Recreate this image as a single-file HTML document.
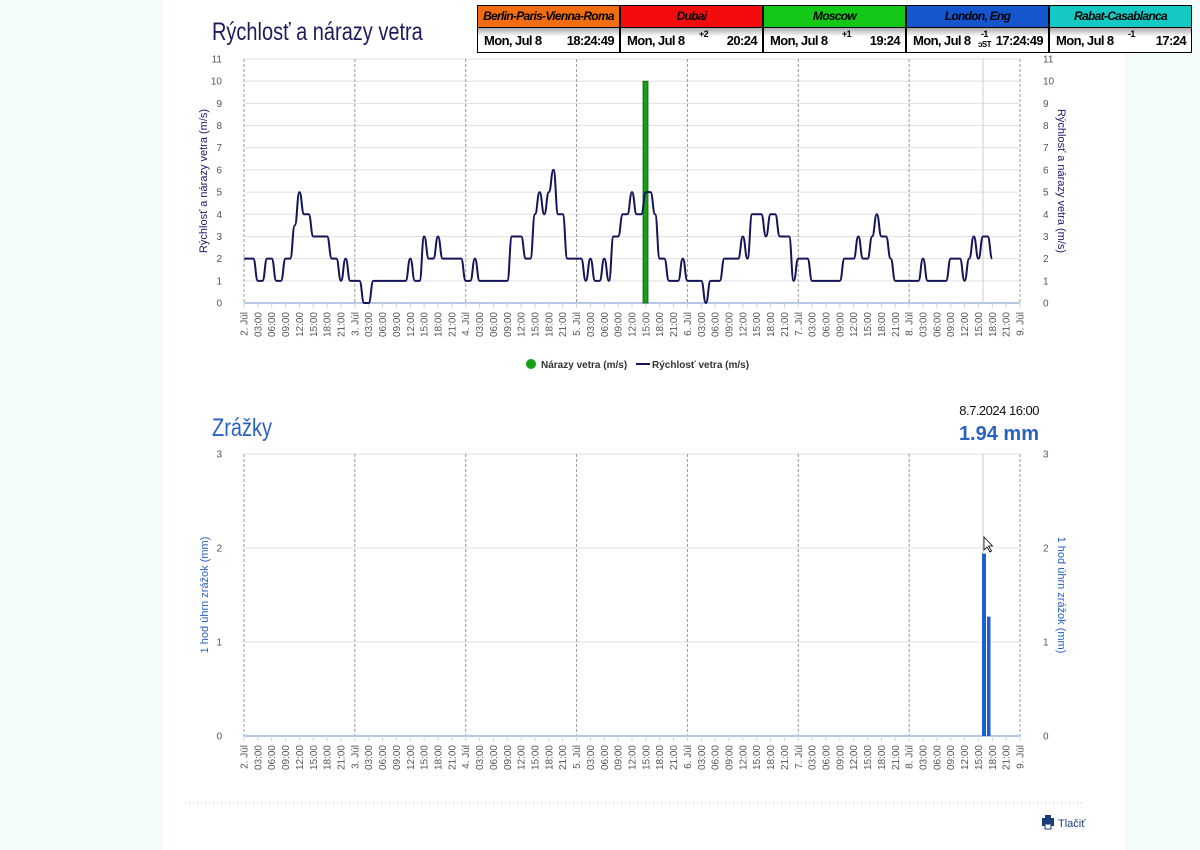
<!DOCTYPE html>
<html><head><meta charset="utf-8"><style>
body{margin:0;width:1200px;height:850px;background:#f4fbfb;font-family:"Liberation Sans",sans-serif;overflow:hidden}
#page{position:absolute;left:163px;top:0;width:962px;height:850px;background:#fff}
svg{position:absolute;left:0;top:0}
.clk{position:absolute;top:5px;width:143px;height:48px;border:1px solid #000;box-sizing:border-box;background:#fff}
.clk .n{height:21px;border-bottom:1px solid #000;font:italic bold 12px "Liberation Sans",sans-serif;text-align:center;line-height:21px;letter-spacing:-0.7px;white-space:nowrap;overflow:hidden}
.clk .t{height:24px;background:linear-gradient(#aaa,#fff 35%,#fff);font:bold 13px "Liberation Sans",sans-serif;line-height:26px;position:relative;letter-spacing:-0.6px}
.clk .t span{position:absolute}
</style></head><body>
<div id="page"></div>
<div class="clk" style="left:477px"><div class="n" style="background:#f26d0f">Berlin-Paris-Vienna-Roma</div><div class="t"><span style="left:6px">Mon, Jul 8</span><span style="right:5px">18:24:49</span></div></div>
<div class="clk" style="left:620px"><div class="n" style="background:#f40b0b">Dubai</div><div class="t"><span style="left:6px">Mon, Jul 8</span><span style="left:78px;top:-7px;font-size:9px">+2</span><span style="right:5px">20:24</span></div></div>
<div class="clk" style="left:763px"><div class="n" style="background:#13c816">Moscow</div><div class="t"><span style="left:6px">Mon, Jul 8</span><span style="left:78px;top:-7px;font-size:9px">+1</span><span style="right:5px">19:24</span></div></div>
<div class="clk" style="left:906px"><div class="n" style="background:#1556cf">London, Eng</div><div class="t"><span style="left:6px">Mon, Jul 8</span><span style="left:74px;top:-7px;font-size:9px">-1</span><span style="left:71px;top:4px;font-size:8px">ɔST</span><span style="right:5px">17:24:49</span></div></div>
<div class="clk" style="left:1049px"><div class="n" style="background:#14c9c4">Rabat-Casablanca</div><div class="t"><span style="left:6px">Mon, Jul 8</span><span style="left:78px;top:-7px;font-size:9px">-1</span><span style="right:5px">17:24</span></div></div>
<svg id="s" width="1200" height="850" xmlns="http://www.w3.org/2000/svg" style="z-index:0"></svg>
<script>
var s=document.getElementById('s'),o='';
var X0=244,X1=1020,hw=(X1-X0)/168;
function X(h){return X0+h*hw}
o+='<text x="212" y="40" font-size="25" fill="#1b1b5e" transform="translate(212 0) scale(0.8 1) translate(-212 0)">Rýchlosť a nárazy vetra</text>';
function chart(y0,yT,max,color,rt){
 var u=(y0-yT)/max;
 for(var i=0;i<=max;i++){var y=y0-i*u;
  if(i>0)o+='<line x1="'+X0+'" x2="'+X1+'" y1="'+y+'" y2="'+y+'" stroke="#e0e0e0"/>';
  o+='<text x="222" y="'+(y+3.5)+'" font-size="10" fill="#555" text-anchor="end">'+i+'</text>';
  o+='<text x="1043" y="'+(y+3.5)+'" font-size="10" fill="#555">'+i+'</text>';}
 for(var d=0;d<=7;d++){var x=X(d*24);o+='<line x1="'+x+'" x2="'+x+'" y1="'+yT+'" y2="'+y0+'" stroke="#999" stroke-dasharray="3,2"/>';}
 o+='<line x1="983" x2="983" y1="'+yT+'" y2="'+y0+'" stroke="#ccc"/>';
 o+='<line x1="'+X0+'" x2="'+X1+'" y1="'+y0+'" y2="'+y0+'" stroke="#b6c8e6" stroke-width="2"/>';
 for(var h=0;h<=168;h+=3){var x=X(h);
  o+='<line x1="'+x+'" x2="'+x+'" y1="'+y0+'" y2="'+(y0+5)+'" stroke="#c8d4e8"/>';
  var l=h%24==0?(2+h/24)+'. Júl':((h%24<10?'0':'')+(h%24)+':00');
  o+='<text transform="translate('+(x+3.5)+' '+(y0+9)+') rotate(-90)" font-size="10" fill="#555" text-anchor="end">'+l+'</text>';}
 var cy=(y0+yT)/2;
 o+='<text transform="translate('+(rt?208:207)+' '+cy+') rotate(-90)" font-size="11" fill="'+color+'" text-anchor="middle">'+(rt||'Rýchlosť a nárazy vetra (m/s)')+'</text>';
 o+='<text transform="translate(1058 '+cy+') rotate(90)" font-size="11" fill="'+color+'" text-anchor="middle">'+(rt||'Rýchlosť a nárazy vetra (m/s)')+'</text>';
 return u;}
var u=chart(303,59,11,'#1b1b6e');
var v={};function set(a,b,val){for(var i=a;i<=b;i++)v[i]=val}
set(0,2,2);set(3,4,1);set(5,6,2);set(7,8,1);set(9,10,2);set(11,11,3.5);set(12,12,5);set(13,14,4);set(15,18,3);set(19,20,2);set(21,21,1);set(22,22,2);set(23,25,1);set(26,27,0);set(28,35,1);set(36,36,2);set(37,38,1);set(39,39,3);set(40,41,2);set(42,42,3);set(43,47,2);set(48,49,1);set(50,50,2);set(51,57,1);set(58,60,3);set(61,62,2);set(63,63,4);set(64,64,5);set(65,65,4);set(66,66,5);set(67,67,6);set(68,69,4);set(70,73,2);set(74,74,1);set(75,75,2);set(76,77,1);set(78,78,2);set(79,79,1);set(80,81,3);set(82,83,4);set(84,84,5);set(85,86,4);set(87,88,5);set(89,89,4);set(90,91,2);set(92,94,1);set(95,95,2);set(96,99,1);set(100,100,0);set(101,103,1);set(104,107,2);set(108,108,3);set(109,109,2);set(110,112,4);set(113,113,3);set(114,115,4);set(116,118,3);set(119,119,1);set(120,122,2);set(123,129,1);set(130,132,2);set(133,133,3);set(134,135,2);set(136,136,3);set(137,137,4);set(138,139,3);set(140,140,2);set(141,146,1);set(147,147,2);set(148,152,1);set(153,155,2);set(156,156,1);set(157,157,2);set(158,158,3);set(159,159,2);set(160,161,3);set(162,162,2);
o+='<rect x="643" y="'+(303-10*u)+'" width="5" height="'+(10*u)+'" fill="#16a016" stroke="#0a5a0a" stroke-width="0.8"/>';
var p='M'+X(0)+' '+(303-v[0]*u);
for(var i=1;i<=162;i++){var xa=X(i-1),xb=X(i),ya=303-v[i-1]*u,yb=303-v[i]*u,m=(xa+xb)/2;p+=' C'+m+' '+ya+' '+m+' '+yb+' '+xb+' '+yb;}
o+='<path d="'+p+'" fill="none" stroke="#14145a" stroke-width="2"/>';
o+='<circle cx="531" cy="364" r="5" fill="#16a016"/><text x="541" y="368" font-size="10" font-weight="bold" fill="#333">Nárazy vetra (m/s)</text>';
o+='<line x1="636" x2="650" y1="364" y2="364" stroke="#14145a" stroke-width="2"/><text x="652" y="368" font-size="10" font-weight="bold" fill="#333">Rýchlosť vetra (m/s)</text>';
o+='<text x="212" y="436" font-size="25" fill="#2a62c4" transform="translate(212 0) scale(0.8 1) translate(-212 0)">Zrážky</text>';
o+='<text x="1039" y="415" font-size="13" fill="#111" text-anchor="end" letter-spacing="-0.5">8.7.2024 16:00</text>';
o+='<text x="1039" y="440" font-size="20" font-weight="bold" fill="#2a62c4" text-anchor="end">1.94 mm</text>';
var u2=chart(736,454,3,'#2a62c4','1 hod úhrn zrážok (mm)');
o+='<rect x="982" y="'+(736-1.94*u2)+'" width="4" height="'+(1.94*u2)+'" fill="#1d5fd0"/>';
o+='<rect x="987" y="'+(736-1.27*u2)+'" width="3.5" height="'+(1.27*u2)+'" fill="#1d5fd0"/>';
o+='<path d="M984 537 l0 13 l3 -3 l3 5 l1.5 -1 l-3 -5 l4 0 z" fill="#fff" stroke="#000" stroke-width="0.8"/>';
o+='<line x1="185" x2="1085" y1="803" y2="803" stroke="#bbb" stroke-dasharray="1,3"/>';
o+='<rect x="1042" y="818" width="12" height="8" fill="#1a3e7a"/><rect x="1045" y="815" width="6" height="4" fill="#1a3e7a"/><rect x="1045" y="824" width="6" height="5" fill="#fff" stroke="#1a3e7a"/>';
o+='<text x="1058" y="827" font-size="11" fill="#1a3e7a">Tlačiť</text>';
s.innerHTML=o;
</script>
</body></html>
